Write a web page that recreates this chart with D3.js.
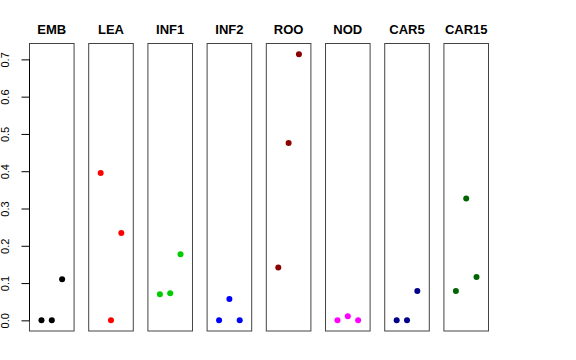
<!DOCTYPE html>
<html>
<head>
<meta charset="utf-8">
<script src="https://cdn.jsdelivr.net/npm/d3@7"></script>
<style>
  body { margin: 0; background: #fff; }
  svg { display: block; font-family: "Liberation Sans", Arial, Helvetica, sans-serif; }
</style>
</head>
<body>
<div id="chart"></div>
<script>
// tissues, one panel each
var tissues = ["EMB", "LEA", "INF1", "INF2", "ROO", "NOD", "CAR5", "CAR15"];
var colors  = ["#000000", "#FF0000", "#00CD00", "#0000FF", "#8B0000", "#FF00FF", "#00008B", "#006400"];

// three values per tissue (x = 1, 2, 3 inside each panel)
var emb   = [0.000, 0.000, 0.110];
var lea   = [0.395, 0.000, 0.234];
var inf1  = [0.070, 0.073, 0.177];
var inf2  = [0.000, 0.057, 0.000];
var roo   = [0.142, 0.476, 0.714];
var nod   = [0.000, 0.011, 0.000];
var car5  = [0.000, 0.000, 0.079];
var car15 = [0.079, 0.327, 0.116];

var yticks = [0, 0.1, 0.2, 0.3, 0.4, 0.5, 0.6, 0.7];

var values = [emb, lea, inf1, inf2, roo, nod, car5, car15];

var width = 576, height = 360;
var plotTop = 43.5, plotBottom = 331;

var svg = d3.select("#chart").append("svg")
  .attr("width", width)
  .attr("height", height);

var ymax = d3.max(values, function(v){ return d3.max(v); });
var pad = ymax * 0.04;   // R style 4% axis extension

var y = d3.scaleLinear()
  .domain([-pad, ymax + pad])
  .range([plotBottom, plotTop]);

var panel = d3.scaleBand()
  .domain(tissues)
  .range([29.5, 488.5])
  .paddingInner(0.247)
  .paddingOuter(0);

var xin = d3.scaleLinear()
  .domain([-0.16, 4.16])
  .range([0, panel.bandwidth()]);

// panels
tissues.forEach(function(t, i){
  var g = svg.append("g")
    .attr("transform", "translate(" + panel(t) + ",0)");

  g.append("rect")
    .attr("x", 0)
    .attr("y", plotTop)
    .attr("width", panel.bandwidth())
    .attr("height", plotBottom - plotTop)
    .attr("fill", "none")
    .attr("stroke", "#444")
    .attr("stroke-width", 1);

  g.append("text")
    .attr("x", panel.bandwidth() / 2)
    .attr("y", 34)
    .attr("text-anchor", "middle")
    .attr("font-size", 13)
    .attr("font-weight", "bold")
    .text(t);

  g.selectAll("circle")
    .data(values[i])
    .enter().append("circle")
    .attr("cx", function(d, j){ return xin(j + 1); })
    .attr("cy", function(d){ return y(d); })
    .attr("r", 3)
    .attr("fill", colors[i]);
});

// left axis on the first panel
var axis = d3.axisLeft(y)
  .tickValues(yticks)
  .tickFormat(d3.format(".1f"))
  .tickSize(8)
  .tickPadding(4);

var ax = svg.append("g")
  .attr("transform", "translate(" + panel(tissues[0]) + ",0)")
  .call(axis);

ax.select(".domain")
  .attr("d", "M0," + y(0) + "V" + y(0.7))
  .attr("stroke", "#000");

ax.selectAll(".tick text")
  .attr("font-size", 11)
  .attr("font-family", "Liberation Sans, Arial, sans-serif")
  .attr("fill", "#000")
  .attr("transform", "rotate(-90)")
  .attr("x", 0)
  .attr("y", -20.5)
  .attr("dy", 0)
  .attr("text-anchor", "middle");
</script>
</body>
</html>
